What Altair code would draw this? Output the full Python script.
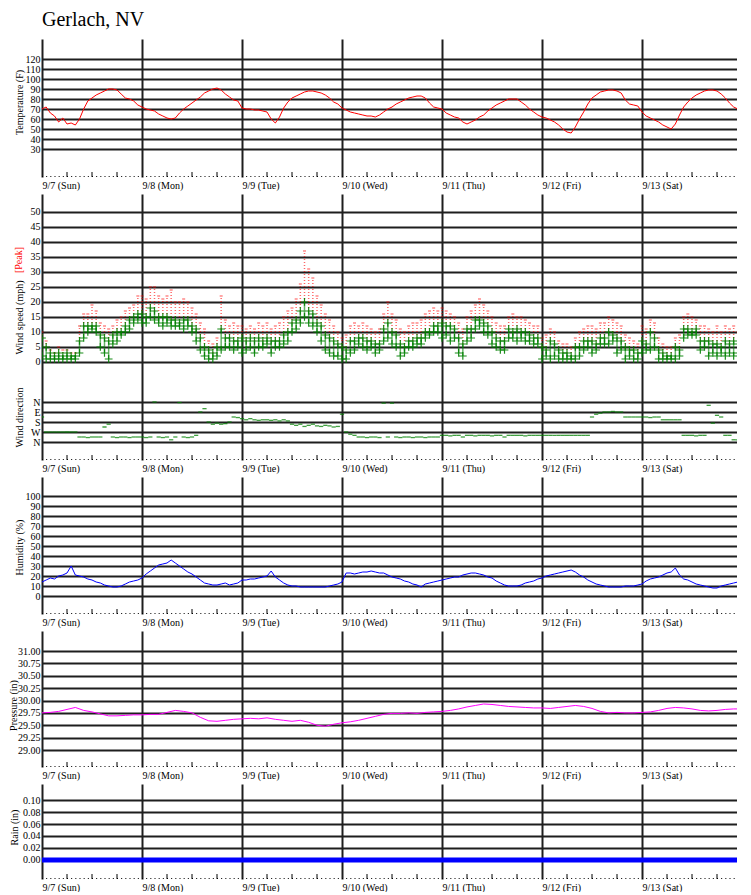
import json
import altair as alt
import pandas as pd

FONT = "Liberation Serif"
LINE = "#1e1e1e"

# ---------------- text / axis categories ----------------
CHART_TITLE = "Gerlach, NV"
DAY_LABELS = ["9/7 (Sun)", "9/8 (Mon)", "9/9 (Tue)", "9/10 (Wed)", "9/11 (Thu)", "9/12 (Fri)", "9/13 (Sat)"]
DAY_STARTS = [0, 24, 48, 72, 96, 120, 144]
DIR_LABELS = ["N", "E", "S", "W", "N"]
DIR_TICKS = [0, 90, 180, 270, 360]
TEMP_TICKS = [30, 40, 50, 60, 70, 80, 90, 100, 110, 120]
WIND_TICKS = [0, 5, 10, 15, 20, 25, 30, 35, 40, 45, 50]
HUM_TICKS = [0, 10, 20, 30, 40, 50, 60, 70, 80, 90, 100]
PRES_TICKS = [29.00, 29.25, 29.50, 29.75, 30.00, 30.25, 30.50, 30.75, 31.00]
RAIN_TICKS = [0.00, 0.02, 0.04, 0.06, 0.08, 0.10]

# ---------------- data (hours since 9/7 00:00) ----------------
hours = list(range(169))
temp_f = [
    70, 72, 66, 63, 57, 61, 55, 56, 54, 60, 70, 78, 81, 84, 86, 88, 90, 90, 89, 85, 81, 80, 78, 74,
    72, 70, 69, 68, 65, 63, 61, 60, 61, 66, 70, 73, 76, 79, 82, 86, 88, 90, 91, 89, 85, 82, 79, 78,
    71, 70, 70, 69, 69, 68, 67, 60, 56, 62, 71, 77, 81, 83, 85, 87, 88, 88, 87, 86, 84, 81, 77, 75,
    71, 69, 67, 66, 65, 64, 63, 63, 62, 64, 67, 70, 72, 75, 77, 79, 81, 82, 83, 83, 81, 76, 72, 71,
    70, 66, 64, 62, 61, 57, 55, 57, 59, 62, 64, 68, 71, 74, 76, 78, 80, 80, 80, 77, 74, 70, 67, 64,
    62, 61, 59, 57, 54, 50, 47, 46, 52, 60, 67, 75, 81, 84, 87, 88, 89, 89, 88, 86, 79, 75, 74, 73,
    67, 63, 61, 59, 57, 54, 52, 50, 55, 64, 72, 77, 81, 84, 86, 88, 89, 89, 88, 85, 81, 76, 72, 70,
    71,
]
humidity_pct = [
    14, 16, 18, 17, 20, 21, 23, 30, 21, 20, 19, 17, 16, 14, 13, 11, 10, 9, 9, 10, 12, 14, 15, 16,
    18, 22, 25, 28, 31, 32, 33, 36, 33, 30, 27, 24, 22, 19, 16, 13, 12, 11, 11, 12, 13, 11, 12, 13,
    16, 16, 17, 17, 18, 19, 20, 25, 19, 16, 13, 11, 10, 10, 9, 9, 9, 9, 9, 9, 9, 10, 11, 12,
    14, 23, 23, 22, 23, 24, 24, 25, 24, 23, 23, 21, 19, 18, 17, 15, 14, 12, 11, 9, 12, 13, 14, 15,
    16, 17, 18, 19, 19, 21, 22, 23, 23, 22, 21, 19, 18, 15, 13, 11, 10, 10, 10, 11, 13, 14, 15, 17,
    18, 20, 21, 22, 23, 24, 25, 26, 24, 21, 19, 16, 14, 12, 11, 10, 9, 9, 9, 9, 10, 10, 10, 11,
    12, 15, 17, 18, 19, 21, 23, 24, 28, 21, 17, 16, 14, 12, 11, 10, 9, 8, 8, 10, 11, 12, 13, 14,
    15,
]
pressure_hours = list(range(0, 169, 2))
pressure_in = [
    29.75, 29.76, 29.78, 29.82, 29.86, 29.80, 29.77, 29.73, 29.69, 29.69, 29.70, 29.71, 29.71,
    29.72, 29.72, 29.76, 29.80, 29.78, 29.75, 29.66, 29.59, 29.58, 29.60, 29.62, 29.63,
    29.64, 29.63, 29.65, 29.62, 29.60, 29.58, 29.60, 29.56, 29.50, 29.48, 29.52, 29.55,
    29.57, 29.60, 29.64, 29.68, 29.72, 29.74, 29.74, 29.75, 29.74, 29.76, 29.77, 29.78,
    29.80, 29.83, 29.87, 29.90, 29.93, 29.92, 29.90, 29.88, 29.87, 29.86, 29.85, 29.85,
    29.84, 29.86, 29.88, 29.90, 29.88, 29.84, 29.78, 29.75, 29.76, 29.75, 29.75, 29.76,
    29.77, 29.80, 29.84, 29.86, 29.85, 29.83, 29.80, 29.79, 29.80, 29.82, 29.83, 29.83,
]
wind_hours = list(range(168))
wind_low = [
    2, 1, 1, 1, 1, 1, 1, 1, 1, 3, 8, 10, 11, 10, 5, 3, 1, 6, 7, 9, 10, 11, 13, 14,
    13, 13, 15, 14, 13, 12, 13, 12, 12, 12, 11, 12, 10, 7, 4, 2, 1, 1, 2, 4, 5, 5, 4, 5,
    3, 4, 5, 3, 5, 5, 6, 3, 5, 5, 6, 7, 10, 11, 13, 15, 13, 12, 10, 7, 4, 3, 2, 2,
    1, 1, 3, 4, 6, 5, 4, 5, 3, 4, 7, 8, 6, 5, 2, 3, 5, 5, 6, 6, 8, 9, 10, 10,
    8, 9, 7, 8, 3, 2, 7, 8, 11, 12, 10, 9, 6, 5, 4, 4, 8, 8, 7, 8, 7, 7, 6, 6,
    1, 2, 1, 2, 1, 1, 1, 1, 1, 2, 4, 5, 3, 4, 6, 6, 6, 7, 3, 4, 1, 2, 1, 1,
    3, 4, 4, 5, 1, 1, 1, 1, 1, 2, 8, 9, 9, 9, 4, 5, 2, 3, 2, 3, 2, 3, 2, 3,
]
wind_high = [
    8, 5, 3, 2, 3, 2, 3, 2, 2, 7, 12, 12, 12, 12, 9, 8, 7, 9, 10, 10, 12, 14, 15, 16,
    16, 15, 18, 17, 15, 15, 15, 14, 14, 13, 14, 14, 12, 11, 8, 5, 4, 3, 5, 11, 8, 8, 7, 7,
    8, 7, 8, 7, 8, 7, 8, 7, 7, 7, 9, 10, 13, 14, 17, 20, 17, 16, 13, 12, 9, 8, 7, 6,
    5, 4, 7, 7, 8, 8, 7, 7, 6, 6, 11, 13, 10, 9, 6, 5, 7, 7, 8, 8, 10, 10, 12, 12,
    13, 12, 12, 11, 8, 6, 11, 11, 14, 14, 13, 12, 10, 8, 7, 7, 11, 10, 11, 10, 10, 9, 8, 8,
    5, 4, 7, 6, 4, 3, 3, 2, 5, 5, 7, 7, 7, 6, 8, 8, 10, 9, 8, 7, 5, 4, 4, 3,
    7, 6, 10, 8, 4, 3, 2, 2, 5, 4, 11, 11, 10, 11, 7, 7, 7, 6, 6, 5, 7, 6, 7, 6,
]
wind_peak = [
    10, 7, 4, 3, 5, 4, 4, 3, 3, 12, 16, 16, 19, 17, 13, 12, 11, 12, 14, 15, 17, 18, 19, 22,
    22, 21, 25, 25, 22, 21, 22, 24, 20, 20, 21, 20, 18, 16, 13, 11, 7, 6, 8, 22, 14, 12, 13, 12,
    12, 11, 12, 11, 13, 12, 13, 11, 12, 13, 15, 17, 18, 21, 26, 37, 31, 28, 22, 19, 16, 14, 12, 10,
    8, 9, 12, 13, 12, 13, 12, 11, 10, 11, 16, 20, 16, 14, 11, 10, 12, 13, 13, 14, 16, 17, 18, 17,
    18, 17, 16, 15, 13, 11, 15, 17, 19, 21, 19, 17, 15, 13, 12, 12, 15, 16, 15, 15, 14, 13, 12, 12,
    8, 9, 11, 10, 7, 6, 6, 5, 8, 10, 11, 12, 12, 11, 13, 13, 15, 14, 13, 12, 9, 8, 7, 6,
    12, 11, 14, 13, 8, 6, 5, 5, 8, 9, 15, 16, 15, 14, 12, 12, 11, 10, 12, 10, 12, 11, 12, 10,
]
wind_dir_deg = [
    135, 270, 270, 270, 270, 270, 270, 270, 270, 315, 315, 320, 315, 315, 315, 225, 200, 315, 320, 315, 315, 320, 315, 315,
    315, 320, 315, 0, 315, 320, 315, 340, 315, 5, 315, 320, 315, 300, 90, 60, 180, 200, 190, 200, 195, 180, 135, 140,
    150, 160, 150, 160, 165, 160, 160, 165, 160, 170, 160, 170, 200, 210, 200, 220, 210, 200, 215, 220, 210, 215, 225, 220,
    110, 270, 290, 300, 315, 315, 320, 315, 315, 320, 10, 315, 10, 315, 320, 315, 315, 320, 315, 315, 320, 315, 315, 315,
    300, 300, 305, 300, 300, 315, 300, 300, 305, 300, 300, 300, 305, 300, 300, 315, 300, 300, 300, 300, 305, 300, 300, 300,
    300, 300, 300, 300, 300, 300, 300, 300, 300, 300, 300, 300, 135, 110, 100, 90, 90, 85, 90, 90, 135, 135, 135, 135,
    135, 135, 140, 135, 135, 160, 160, 160, 160, 160, 300, 300, 300, 305, 300, 300, 30, 190, 120, 135, 300, 300, 340, 340,
]
rain_hours = [0, 24, 48, 72, 96, 120, 144, 168]
rain_in = [0.00, 0.00, 0.00, 0.00, 0.00, 0.00, 0.00, 0.00]

# ---------------- tables ----------------
temp_df = pd.DataFrame({"h": hours, "v": temp_f})
hum_df = pd.DataFrame({"h": hours, "v": humidity_pct})
pres_df = pd.DataFrame({"h": pressure_hours, "v": pressure_in})
wind_df = pd.DataFrame({"h": wind_hours, "lo": wind_low, "hi": wind_high,
                        "peak": wind_peak, "dir": wind_dir_deg})
wind_pts = pd.concat([wind_df[["h", "lo"]].rename(columns={"lo": "v"}),
                      wind_df[["h", "hi"]].rename(columns={"hi": "v"})])
rain_df = pd.DataFrame({"h": rain_hours, "v": rain_in})
span_df = pd.DataFrame({"h": [0], "end": [168]})
six_df = pd.DataFrame({"h": [h for h in range(6, 168, 6) if h % 24]})
title_df = pd.DataFrame({"t": [CHART_TITLE]})
peak_df = pd.DataFrame({"t": ["[Peak]"]})

PX_PER_HOUR = 100 / 24
PLOT_W = 695
X_MAX = PLOT_W / PX_PER_HOUR

LABEL_EXPR = json.dumps(DAY_LABELS) + "[round(datum.value / 24)]"


def x_enc(field="h"):
    return alt.X(f"{field}:Q", scale=alt.Scale(domain=[0, X_MAX], nice=False, zero=False),
                 title=None, axis=alt.Axis(
        values=DAY_STARTS, labelExpr=LABEL_EXPR, grid=True, gridColor=LINE, gridWidth=2,
        gridOpacity=1, domain=False, ticks=False, tickSize=0, labelAlign="left",
        labelBaseline="top", labelPadding=3, labelFlush=False, labelOverlap=False,
        labelBound=False, title=None))


def y_axis(values, title, title_y, title_x=-18, fmt=None, label_expr=None):
    kw = dict(values=values, title=title, titleX=title_x, titleY=title_y, titleAngle=270,
              titleBaseline="bottom", titleAlign="center", grid=True, gridColor=LINE,
              gridWidth=2, gridOpacity=1, domain=False, ticks=False, tickSize=0,
              labelPadding=2, labelFlush=False, labelOverlap=False, labelBound=False,
              orient="left")
    if fmt:
        kw["format"] = fmt
    if label_expr:
        kw["labelExpr"] = label_expr
    return alt.Axis(**kw)


def yscale(lo, hi, reverse=False):
    if reverse:
        return alt.Scale(domain=[lo, hi], nice=False, zero=False, reverse=True)
    return alt.Scale(domain=[lo, hi], nice=False, zero=False)


def bottom_ticks(height):
    dots = alt.Chart(span_df).mark_rule(color="black", strokeWidth=1, clip=True,
                                        strokeDash=[1, PX_PER_HOUR - 1]).encode(
        x=x_enc(), x2="end:Q", y=alt.value(height - 0.5))
    majors = alt.Chart(six_df).mark_rule(color="black", strokeWidth=1).encode(
        x=x_enc(), y=alt.value(height - 5), y2=alt.value(height))
    return [dots, majors]


# ---------------- panel 1: temperature ----------------
H1 = 138
temp_line = alt.Chart(temp_df).mark_line(color="#ff0000", strokeWidth=1, clip=True).encode(
    x=x_enc(),
    y=alt.Y("v:Q", scale=yscale(2, 140), axis=y_axis(TEMP_TICKS, "Temperature (F)", 63)))
title_mark = alt.Chart(title_df).mark_text(
    align="left", baseline="alphabetic", font=FONT, fontSize=20, color="black").encode(
    x=alt.value(0), y=alt.value(-13), text="t:N")
p1 = alt.layer(temp_line, title_mark, *bottom_ticks(H1)).properties(width=PLOT_W, height=H1)

# ---------------- panel 2: wind speed + direction ----------------
H2 = 266
SPD = (-32.67, 56.0)
DIRD = (-1872, 522)
gust_cloud = alt.Chart(wind_df).mark_rule(color="#ff0000", strokeWidth=1.5, clip=True,
                                          strokeDash=[1, 2], opacity=0.6).encode(
    x=x_enc(), y=alt.Y("hi:Q", scale=yscale(*SPD), axis=None), y2="peak:Q")
wind_gust = alt.Chart(wind_df).mark_tick(orient="horizontal", color="#ff0000", size=3,
                                         thickness=1, clip=True).encode(
    x=x_enc(), y=alt.Y("peak:Q", scale=yscale(*SPD), axis=None))
wind_band = alt.Chart(wind_df).mark_rule(color="#008000", strokeWidth=1.5, opacity=0.6,
                                         clip=True).encode(
    x=x_enc(), y=alt.Y("lo:Q", scale=yscale(*SPD), axis=None), y2="hi:Q")
wind_cross = alt.Chart(wind_pts).mark_point(
    shape="M-1,0L1,0M0,-1L0,1", filled=False, color="#008000", strokeWidth=1.2,
    size=60, opacity=0.9, clip=True).encode(
    x=x_enc(),
    y=alt.Y("v:Q", scale=yscale(*SPD), axis=y_axis(WIND_TICKS, "Wind speed (mph)", 123)))
dir_expr = json.dumps(DIR_LABELS) + "[round(datum.value / 90)]"
wind_dirm = alt.Chart(wind_df).mark_tick(orient="horizontal", color="#008000", size=4.2,
                                         thickness=1.3, opacity=0.75, clip=True).encode(
    x=x_enc(),
    y=alt.Y("dir:Q", scale=yscale(*DIRD, reverse=True),
            axis=y_axis(DIR_TICKS, "Wind direction", 223, label_expr=dir_expr)))
peak_label = alt.Chart(peak_df).mark_text(
    angle=270, baseline="bottom", align="center", color="#ff0000", font=FONT,
    fontSize=10).encode(x=alt.value(-18), y=alt.value(66), text="t:N")
p2 = alt.layer(gust_cloud, wind_gust, wind_band, wind_cross, wind_dirm, peak_label,
               *bottom_ticks(H2)).resolve_scale(y="independent").properties(
    width=PLOT_W, height=H2)

# ---------------- panel 3: humidity ----------------
H3 = 137
hum_line = alt.Chart(hum_df).mark_line(color="#0000ff", strokeWidth=1, clip=True).encode(
    x=x_enc(),
    y=alt.Y("v:Q", scale=yscale(-18, 119), axis=y_axis(HUM_TICKS, "Humidity (%)", 70)))
p3 = alt.layer(hum_line, *bottom_ticks(H3)).properties(width=PLOT_W, height=H3)

# ---------------- panel 4: pressure ----------------
H4 = 136
pres_line = alt.Chart(pres_df).mark_line(color="#ff00ff", strokeWidth=1, clip=True).encode(
    x=x_enc(),
    y=alt.Y("v:Q", scale=yscale(28.657, 31.404),
            axis=y_axis(PRES_TICKS, "Pressure (in)", 74, title_x=-24, fmt=".2f")))
p4 = alt.layer(pres_line, *bottom_ticks(H4)).properties(width=PLOT_W, height=H4)

# ---------------- panel 5: rain ----------------
H5 = 95
rain_line = alt.Chart(rain_df).mark_line(color="#0000ff", strokeWidth=5, clip=True).encode(
    x=x_enc(),
    y=alt.Y("v:Q", scale=yscale(-0.03167, 0.12667),
            axis=y_axis(RAIN_TICKS, "Rain (in)", 43, title_x=-23, fmt=".2f")))
p5 = alt.layer(rain_line, *bottom_ticks(H5)).properties(width=PLOT_W, height=H5)

chart = alt.vconcat(p1, p2, p3, p4, p5, spacing=17, bounds="flush").properties(
    padding={"left": 0, "top": 2, "right": 0, "bottom": 0}, background="white"
).configure_view(stroke=None).configure_axis(
    labelFont=FONT, titleFont=FONT, labelFontSize=10, titleFontSize=10,
    titleFontWeight="normal", labelColor="black", titleColor="black")

chart.save("out.html", embed_options={"renderer": "svg", "actions": False})
